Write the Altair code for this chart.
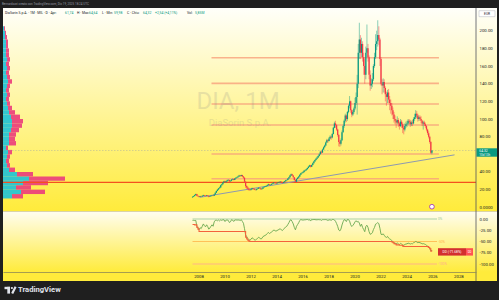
import altair as alt
import numpy as np
import pandas as pd

FONT = "Roboto"
UP, DOWN = "#089981", "#f23645"

# ---------------- monthly candles, DiaSorin (DIA, 1M) ----------------
START_YEAR, START_MONTH = 2007, 7
FIRST_OPEN = 11.2
CLOSE = [
    12.0, 12.8, 14.0, 15.0, 13.0, 12.5,                                   # 2007 Jul-Dec
    11.8, 12.5, 12.2, 13.0, 13.8, 13.2, 12.8, 13.5, 12.9, 12.0, 12.4, 13.0,  # 2008
    13.5, 13.0, 14.5, 16.5, 18.5, 20.0, 21.5, 22.5, 25.0, 26.0, 28.0, 29.5,  # 2009
    28.5, 29.5, 30.5, 31.0, 29.5, 30.0, 31.5, 32.0, 31.0, 32.5, 33.5, 34.0,  # 2010
    35.0, 36.0, 35.5, 36.5, 35.0, 33.5, 29.0, 24.0, 22.5, 21.0, 20.0, 19.5,  # 2011
    20.5, 21.5, 21.0, 20.0, 19.5, 20.5, 21.0, 22.0, 21.5, 20.5, 21.0, 22.5,  # 2012
    23.0, 23.5, 24.0, 25.0, 26.0, 25.0, 25.5, 26.5, 27.0, 28.0, 27.5, 27.0,  # 2013
    27.5, 28.0, 28.5, 29.0, 28.0, 27.5, 28.5, 29.5, 30.5, 31.0, 32.5, 34.0,  # 2014
    36.0, 37.5, 36.0, 34.0, 31.0, 29.0, 32.0, 33.5, 35.0, 37.0, 38.5, 39.0,  # 2015
    40.0, 41.5, 42.0, 43.0, 44.5, 46.0, 47.5, 46.0, 48.0, 50.0, 52.0, 53.5,  # 2016
    55.0, 56.5, 58.0, 60.0, 63.0, 62.0, 65.5, 68.0, 70.0, 73.5, 76.0, 75.0,  # 2017
    78.0, 80.0, 79.0, 83.0, 90.0, 95.0, 93.0, 88.0, 82.0, 74.0, 72.0, 76.0,  # 2018
    85.0, 92.0, 98.0, 104.0, 100.0, 108.0, 115.0, 120.0, 110.0, 105.0, 108.0, 112.0,  # 2019
    118.0, 125.0, 140.0, 175.0, 190.0, 175.0, 185.0, 170.0, 160.0, 150.0, 175.0, 180.0,  # 2020
    170.0, 150.0, 138.0, 140.0, 145.0, 160.0, 170.0, 185.0, 188.0, 195.0, 190.0, 168.0,  # 2021
    140.0, 138.0, 142.0, 135.0, 128.0, 125.0, 130.0, 122.0, 118.0, 115.0, 110.0, 105.0,  # 2022
    100.0, 98.0, 96.0, 99.0, 95.0, 92.0, 97.0, 94.0, 90.0, 88.0, 92.0, 94.0,  # 2023
    95.0, 98.0, 97.0, 94.0, 96.0, 95.0, 100.0, 102.0, 106.0, 104.0, 100.0, 102.0,  # 2024
    100.0, 98.0, 95.0, 96.0, 94.0, 92.0, 88.0, 84.0, 80.0, 74.0, 61.78, 64.32,  # 2025
]
HIGH = [
    12.4, 13.2, 14.5, 15.5, 15.2, 13.4,
    12.8, 13.0, 13.0, 13.4, 14.2, 14.0, 13.4, 14.0, 13.8, 13.2, 12.9, 13.4,
    13.8, 14.0, 15.0, 17.0, 19.0, 20.8, 22.0, 23.5, 25.5, 26.8, 28.5, 30.0,
    30.2, 30.0, 31.2, 32.0, 31.5, 30.8, 32.0, 32.8, 32.5, 33.2, 34.2, 34.8,
    35.8, 36.8, 36.5, 37.0, 36.8, 35.5, 34.0, 29.5, 25.0, 23.5, 22.0, 20.8,
    21.2, 22.3, 22.0, 21.3, 20.3, 21.2, 21.8, 22.6, 22.4, 21.8, 21.6, 23.0,
    23.8, 24.2, 24.6, 25.6, 26.8, 26.3, 26.0, 27.0, 27.8, 28.6, 28.4, 27.9,
    28.2, 28.6, 29.2, 29.8, 29.2, 28.4, 29.0, 30.0, 31.2, 31.6, 33.0, 34.5,
    36.8, 38.2, 38.0, 36.3, 34.2, 31.5, 32.6, 34.3, 35.6, 37.5, 39.0, 39.8,
    41.0, 42.3, 42.8, 43.6, 45.0, 47.0, 48.2, 48.0, 48.5, 50.8, 52.6, 54.2,
    56.0, 57.5, 58.8, 61.0, 64.0, 64.0, 66.5, 69.0, 71.0, 74.5, 77.5, 77.0,
    79.5, 81.5, 81.0, 84.0, 91.0, 97.0, 98.0, 94.0, 89.0, 83.0, 76.0, 78.0,
    87.0, 93.5, 99.5, 106.0, 105.0, 109.0, 116.5, 126.0, 121.0, 111.0, 110.0, 114.0,
    124.0, 130.0, 150.0, 185.0, 209.0, 195.0, 192.0, 188.0, 175.0, 168.0, 182.0, 207.0,
    185.0, 172.0, 155.0, 146.0, 152.0, 162.0, 175.0, 196.0, 200.0, 211.8, 205.0, 192.0,
    170.0, 145.0, 146.0, 145.0, 137.0, 131.0, 133.0, 134.0, 126.0, 122.0, 118.0, 113.0,
    108.0, 104.0, 100.0, 103.0, 101.0, 97.0, 100.0, 99.0, 96.0, 92.0, 95.0, 97.0,
    98.0, 100.0, 100.0, 99.0, 98.0, 99.0, 102.0, 106.0, 110.0, 109.0, 106.0, 104.0,
    104.0, 103.0, 99.0, 98.0, 98.0, 96.0, 93.0, 89.0, 86.0, 81.0, 75.0, 64.64,
]
LOW = [
    10.9, 11.6, 12.6, 13.8, 12.6, 12.0,
    11.2, 11.6, 11.7, 12.1, 12.9, 12.8, 12.3, 12.6, 12.3, 11.3, 11.7, 12.2,
    12.6, 12.5, 12.8, 14.3, 16.3, 18.2, 19.8, 21.2, 22.3, 24.5, 25.8, 27.5,
    27.8, 28.2, 29.2, 29.8, 28.0, 28.8, 29.5, 31.0, 30.3, 30.8, 32.3, 33.0,
    33.5, 34.5, 34.3, 35.0, 34.5, 32.5, 28.5, 22.0, 20.5, 19.5, 18.8, 18.5,
    19.0, 20.2, 20.4, 19.6, 18.9, 19.2, 20.2, 20.8, 20.9, 19.9, 20.2, 20.8,
    22.3, 22.8, 23.3, 23.8, 24.9, 24.6, 24.8, 25.4, 26.2, 26.8, 27.0, 26.4,
    26.6, 27.2, 27.8, 28.3, 27.5, 27.0, 27.4, 28.3, 29.3, 30.0, 30.7, 32.2,
    33.5, 35.5, 35.5, 33.5, 30.5, 28.0, 28.6, 31.8, 33.0, 34.5, 36.8, 38.0,
    38.5, 39.2, 40.6, 41.4, 42.7, 44.0, 45.8, 45.0, 45.6, 47.5, 49.6, 51.5,
    53.0, 54.5, 55.8, 57.5, 59.8, 60.5, 61.5, 65.0, 67.5, 69.5, 73.0, 73.0,
    74.5, 77.0, 76.5, 78.0, 82.5, 89.5, 90.0, 86.5, 80.0, 69.0, 68.5, 70.0,
    75.0, 84.5, 90.0, 96.0, 96.5, 98.0, 106.5, 112.0, 107.0, 102.0, 103.5, 106.0,
    110.0, 116.0, 105.0, 135.0, 168.0, 168.0, 170.0, 165.0, 150.0, 140.0, 145.0, 170.0,
    165.0, 145.0, 132.0, 134.0, 136.0, 143.0, 158.0, 168.0, 178.0, 182.0, 184.0, 160.0,
    138.0, 128.0, 130.0, 130.0, 120.0, 115.0, 118.0, 118.0, 110.0, 106.0, 104.0, 100.0,
    96.0, 94.0, 90.0, 94.0, 91.0, 88.0, 91.0, 90.0, 84.0, 82.6, 86.0, 90.0,
    91.0, 93.0, 94.0, 91.0, 92.0, 92.0, 94.0, 98.0, 100.0, 101.0, 97.0, 98.0,
    98.0, 95.0, 92.0, 88.0, 92.0, 90.0, 86.0, 82.0, 78.0, 72.0, 60.5, 59.98,
]

# drawn levels / trend line
LEVELS = [169.3, 140.4, 117.0, 93.2, 60.3, 32.3]
LEVEL_SPAN = [2009.0, 2026.5]
POC_PRICE = 28.3
LAST_PRICE = 64.32
TREND_X = [2008.1, 2027.7]
TREND_Y = [11.3, 59.4]

# volume profile (left side), price bins of 5
VP_BINS = [10, 15, 20, 25, 30, 35, 40, 45, 50, 55, 60, 65, 70, 75, 80, 85, 90, 95, 100, 105,
           110, 115, 120, 125, 130, 135, 140, 145, 150, 155, 160, 165, 170, 175, 180, 185, 190, 195, 200]
VP_UP = [9, 18, 13, 20, 26, 14, 6, 4, 3, 4, 5, 3, 6, 6, 6, 8, 9, 9, 8, 6,
         5, 4, 3, 4, 3, 4, 5, 4, 3, 4, 3, 4, 3, 3, 3, 3, 2, 2, 1]
VP_DOWN = [11, 24, 15, 25, 36, 16, 6, 3, 3, 3, 4, 2, 7, 6, 7, 8, 10, 11, 9, 6,
           4, 3, 3, 3, 3, 3, 4, 3, 3, 3, 3, 3, 3, 3, 2, 2, 2, 1, 1]
VP_STEP = 5

# axes
PRICE_TICKS = [0, 20, 40, 80, 100, 120, 140, 160, 180, 200]
DD_TICKS = [0, -25, -50, -75, -100]
YEAR_TICKS = [2008, 2010, 2012, 2014, 2016, 2018, 2020, 2022, 2024, 2026, 2028]
DD_LEVELS = [0, -50, -100]
DD_LEVEL_LABELS = ["0%", "-50%", "-100%"]
DD_LEVEL_COLORS = ["#9ccc9c", "#ffb74d", "#ffab91"]
DD_LEVEL_END = 2026.35

# ---------------- tables ----------------
n = len(CLOSE)
assert len(HIGH) == n and len(LOW) == n
t = []
for i in range(n):
    m = START_MONTH - 1 + i
    t.append(START_YEAR + m // 12 + (m % 12) / 12 + 1 / 24)
bars = pd.DataFrame({"t": t, "open": [FIRST_OPEN] + CLOSE[:-1], "close": CLOSE, "high": HIGH, "low": LOW})
bars["col"] = np.where(bars["close"] >= bars["open"], UP, DOWN)
peak = bars["high"].cummax()
bars["dd"] = (bars["close"] / peak - 1) * 100
bars["mdd"] = ((bars["low"] / peak - 1) * 100).cummin()

vp_rows = []
for b, u, d in zip(VP_BINS, VP_UP, VP_DOWN):
    vp_rows.append({"lo": b, "hi": b + VP_STEP, "x0": 0, "x1": u, "c": "#22c3d6"})
    vp_rows.append({"lo": b, "hi": b + VP_STEP, "x0": u, "x1": u + d, "c": "#ec3f7c"})
vp = pd.DataFrame(vp_rows)

one = pd.DataFrame({"k": [0]})

# ---------------- geometry / scales ----------------
W, H = 473, 264
xs = alt.Scale(domain=[1992.96, 2029.35], nice=False, zero=False)
yp = alt.Scale(domain=[0, 200], range=[199.3, 22.7], nice=False, zero=False)
yd = alt.Scale(domain=[-100, 0], range=[256, 211], nice=False, zero=False)

price_axis = alt.Axis(orient="right", values=PRICE_TICKS,
                      labelExpr="datum.value == 0 ? '0.0000' : format(datum.value, '.2f')",
                      grid=False, ticks=False, domain=False, labelFontSize=4.3, labelColor="#131722",
                      labelPadding=3, labelFont=FONT, labelAlign="left", title=None, zindex=2)
dd_axis = alt.Axis(orient="right", values=DD_TICKS,
                   labelExpr="datum.value < 0 ? '-' + format(-datum.value, '.2f') : format(datum.value, '.2f')",
                   grid=False, ticks=False, domain=False, labelFontSize=4.3, labelColor="#131722",
                   labelPadding=3, labelFont=FONT, labelAlign="left", title=None, zindex=2)
x_axis = alt.Axis(orient="bottom", values=YEAR_TICKS, format="d", grid=False, ticks=False,
                  domain=True, domainColor="#8f8a55", domainWidth=0.8, labelFontSize=4.3,
                  labelColor="#131722", labelPadding=2.6, labelFont=FONT, labelFlush=False,
                  title=None, zindex=2)


def grad(top, bottom):
    return alt.LinearGradient(gradient="linear", x1=0, x2=0, y1=0, y2=1,
                              stops=[alt.GradientStop(color=top, offset=0),
                                     alt.GradientStop(color=bottom, offset=1)])


def rect(x1, x2, y1, y2, **kw):
    return alt.Chart(one).mark_rect(**kw).encode(
        x=alt.value(x1), x2=alt.value(x2), y=alt.value(y1), y2=alt.value(y2))


def txt(x, y, s, size, color, align="left", weight="normal", opacity=1.0):
    return alt.Chart(one).mark_text(text=s, fontSize=size, color=color, align=align,
                                    baseline="middle", fontWeight=weight, font=FONT,
                                    opacity=opacity).encode(x=alt.value(x), y=alt.value(y))


# backgrounds
bg_price = rect(0, 494, 0, 203.5, fill=grad("#fffffa", "#ffeb3b"))
bg_ind = rect(0, 494, 203.5, 264, fill=grad("#fffdf0", "#ffeb3b"))
bg_time = rect(0, 494, 264, 273, fill="#ffeb3b")

# volume profile
profile = alt.Chart(vp).mark_rect(opacity=0.92).encode(
    x=alt.X("x0:Q", scale=alt.Scale(domain=[0, W], nice=False, zero=False), axis=None),
    x2="x1:Q",
    y=alt.Y("lo:Q", scale=yp, axis=None), y2="hi:Q",
    color=alt.Color("c:N", scale=None))

# price pane
levels_df = pd.DataFrame({"p": LEVELS, "x0": LEVEL_SPAN[0], "x1": LEVEL_SPAN[1]})
lev = alt.Chart(levels_df).mark_rule(color="#f7a07c", strokeWidth=1.6, opacity=0.8).encode(
    x=alt.X("x0:Q", scale=xs, axis=None), x2="x1:Q",
    y=alt.Y("p:Q", scale=yp, axis=price_axis))
poc = alt.Chart(pd.DataFrame({"p": [POC_PRICE]})).mark_rule(color="#f4511e", strokeWidth=1.3).encode(
    x=alt.value(0), x2=alt.value(W), y=alt.Y("p:Q", scale=yp, axis=price_axis))
lastline = alt.Chart(pd.DataFrame({"p": [LAST_PRICE]})).mark_rule(
    color="#9aa0a6", strokeWidth=0.7, strokeDash=[1.5, 1.5], opacity=0.6).encode(
    x=alt.value(0), x2=alt.value(W), y=alt.Y("p:Q", scale=yp, axis=price_axis))
trend = alt.Chart(pd.DataFrame({"x": TREND_X, "p": TREND_Y})).mark_line(
    color="#8e9ab0", strokeWidth=1.0).encode(
    x=alt.X("x:Q", scale=xs, axis=None), y=alt.Y("p:Q", scale=yp, axis=price_axis))
wicks = alt.Chart(bars).mark_rule(strokeWidth=0.8, opacity=0.6).encode(
    x=alt.X("t:Q", scale=xs, axis=None), y=alt.Y("low:Q", scale=yp, axis=price_axis), y2="high:Q",
    color=alt.Color("col:N", scale=None))
bodies = alt.Chart(bars).mark_rule(strokeWidth=1.25).encode(
    x=alt.X("t:Q", scale=xs, axis=None), y=alt.Y("open:Q", scale=yp, axis=price_axis), y2="close:Q",
    color=alt.Color("col:N", scale=None))
marker = alt.Chart(bars.tail(1)).mark_point(filled=True, fill="white", stroke="#9c27b0",
                                            strokeWidth=0.8, size=22, opacity=1).encode(
    x=alt.X("t:Q", scale=xs, axis=None), y=alt.value(198.7))
price_group = alt.layer(lev, poc, lastline, trend, wicks, bodies, marker)

# indicator pane (drawdown)
ddl = pd.DataFrame({"v": DD_LEVELS, "lab": DD_LEVEL_LABELS, "c": DD_LEVEL_COLORS,
                    "x0": bars["t"].iloc[0], "x1": DD_LEVEL_END})
dd_lines = alt.Chart(ddl).mark_rule(strokeWidth=1.2, opacity=0.85).encode(
    x=alt.X("x0:Q", scale=xs, axis=x_axis), x2="x1:Q",
    y=alt.Y("v:Q", scale=yd, axis=dd_axis), color=alt.Color("c:N", scale=None))
dd_labels = alt.Chart(ddl).mark_text(align="left", dx=1, fontSize=3.3, font=FONT).encode(
    x=alt.X("x1:Q", scale=xs, axis=x_axis), y=alt.Y("v:Q", scale=yd, axis=dd_axis),
    text="lab:N", color=alt.Color("c:N", scale=None))
green = alt.Chart(bars).mark_line(color="#6aa84f", strokeWidth=0.9).encode(
    x=alt.X("t:Q", scale=xs, axis=x_axis), y=alt.Y("dd:Q", scale=yd, axis=dd_axis))
red = alt.Chart(bars).mark_line(color="#f4623a", strokeWidth=1.1, interpolate="step-after").encode(
    x=alt.X("t:Q", scale=xs, axis=x_axis), y=alt.Y("mdd:Q", scale=yd, axis=dd_axis))
ind_group = alt.layer(dd_lines, dd_labels, green, red)

# separators
vsep = alt.Chart(one).mark_rule(color="#50535e", strokeWidth=0.8).encode(
    x=alt.value(W), y=alt.value(0), y2=alt.value(273))
hsep = alt.Chart(one).mark_rule(color="#e2dbb0", strokeWidth=0.7).encode(
    x=alt.value(0), x2=alt.value(494), y=alt.value(203.5))

# texts
TEAL = "#089981"
DARK = "#131722"
texts = [
    txt(-1, -4, "Bernardozzi creato con TradingView.com, Dic 19, 2025 18:24 UTC", 3.0, "#9598a1"),
    txt(2, 5.3, "DiaSorin S.p.A. · 1M · MIL · D · Apr:", 3.4, DARK),
    txt(62, 5.3, "61,74", 3.4, TEAL),
    txt(74, 5.3, "H · Max:", 3.4, DARK),
    txt(86, 5.3, "64,64", 3.4, TEAL),
    txt(99, 5.3, "L · Min:", 3.4, DARK),
    txt(111, 5.3, "59,98", 3.4, TEAL),
    txt(124, 5.3, "C · Chiu:", 3.4, DARK),
    txt(140, 5.3, "64,32", 3.4, TEAL),
    txt(152, 5.3, "+2,54 (+4,11%)", 3.4, TEAL),
    txt(184, 5.3, "Vol:", 3.4, DARK),
    txt(192, 5.3, "5,85M", 3.4, TEAL),
    txt(235, 94, "DIA, 1M", 24, "#8a8a8a", align="center", opacity=0.2),
    txt(237, 115, "DiaSorin S.p.A.", 9.5, "#8a8a8a", align="center", opacity=0.2),
]
eur_box = rect(476, 492, 2.7, 8.7, fill="white", stroke="#b2b5be", strokeWidth=0.5)
eur_txt = txt(484, 5.8, "EUR", 3.2, DARK, align="center")
ptag = rect(473.5, 494, 140.3, 148.7, fill=TEAL)
ptag_t1 = txt(476.3, 142.6, "64.32", 3.3, "white")
ptag_t2 = txt(476.3, 146.6, "10d 13h", 3.0, "white")
ddtag = rect(435, 463, 240.2, 247.6, fill="#d32f2f")
ddtag_t = txt(449, 244, "DD (%.2f%%)" % bars["mdd"].iloc[-1], 3.3, "white", align="center")
ddtag2 = rect(463, 470, 240.2, 247.6, fill="#ff5252")
ddtag2_t = txt(466.5, 244, "DD", 2.8, "white", align="center")

# bottom logo
logo = [
    rect(1.5, 7.0, 278.8, 281.2, fill="#e0e3eb"),
    rect(4.3, 7.0, 278.8, 285.6, fill="#e0e3eb"),
    alt.Chart(one).mark_point(filled=True, color="#e0e3eb", size=5, opacity=1).encode(
        x=alt.value(8.9), y=alt.value(280.0)),
    alt.Chart(one).mark_rule(color="#e0e3eb", strokeWidth=2.2).encode(
        x=alt.value(9.2), x2=alt.value(12.6), y=alt.value(285.6), y2=alt.value(278.8)),
    txt(15, 282.2, "TradingView", 7.6, "#e0e3eb", weight="bold"),
]

chart = alt.layer(
    bg_price, bg_ind, bg_time, profile, price_group, ind_group, hsep, vsep,
    *texts, eur_box, eur_txt, ptag, ptag_t1, ptag_t2, ddtag, ddtag_t, ddtag2, ddtag2_t, *logo
).resolve_scale(x="independent", y="independent").properties(
    width=W, height=H,
    autosize=alt.AutoSizeParams(type="none"),
    padding={"left": 3, "top": 8, "right": 23, "bottom": 28},
    background="#1f1f1f",
).configure_view(stroke=None)

chart.save("out.html", embed_options={"renderer": "svg", "actions": False})
